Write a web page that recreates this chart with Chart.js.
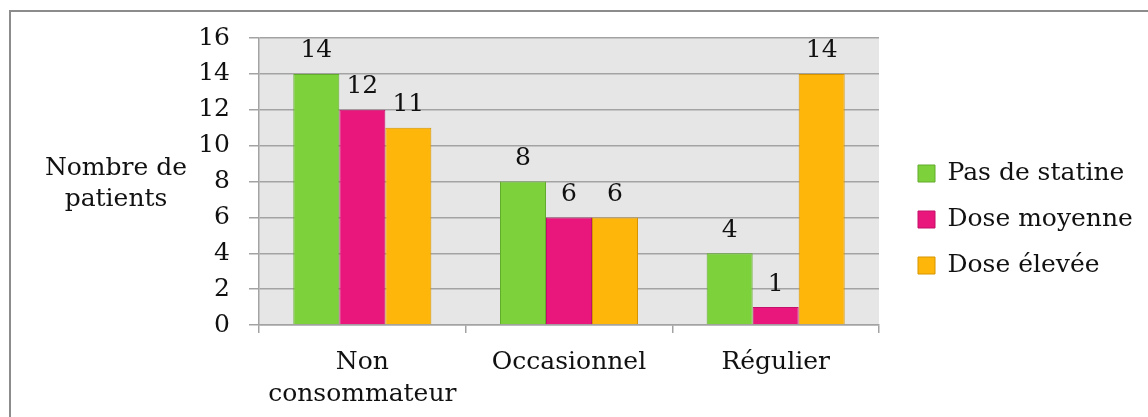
<!DOCTYPE html>
<html>
<head>
<meta charset="utf-8">
<script src="https://cdn.jsdelivr.net/npm/chart.js@4"></script>
<style>
  html, body { margin: 0; padding: 0; background: #fff; overflow: hidden; }
  #wrap { position: relative; width: 1148px; height: 417px; }
  #frame { position: absolute; left: 9px; top: 10px; width: 1200px; height: 500px; border: 2px solid #8c8c8c; }
  canvas { position: absolute; left: 0; top: 0; }
</style>
</head>
<body>
<div id="wrap">
  <div id="frame"></div>
  <canvas id="chart" width="1148" height="417"></canvas>
</div>
<script>
// ========== DATA ==========
const categories = [['Non', 'consommateur'], 'Occasionnel', 'Régulier'];
const seriesNames = ['Pas de statine', 'Dose moyenne', 'Dose élevée'];
const pasDeStatine = [14, 8, 4];
const doseMoyenne = [12, 6, 1];
const doseElevee = [11, 6, 14];
const yTicks = [0, 2, 4, 6, 8, 10, 12, 14, 16];
const yTitle = ['Nombre de', 'patients'];

// ========== STYLE ==========
const FONT = { family: '"DejaVu Serif", serif', size: 25 };
const TEXT = '#111';
const GRID = '#a3a3a3';

// ========== PLUGINS ==========
const plotBg = {
  id: 'plotBg',
  beforeDraw(chart) {
    const { ctx, chartArea: a } = chart;
    ctx.save();
    ctx.fillStyle = '#e6e6e6';
    ctx.fillRect(a.left, a.top, a.right - a.left, a.bottom - a.top);
    ctx.restore();
  }
};

const valueLabels = {
  id: 'valueLabels',
  afterDatasetsDraw(chart) {
    const ctx = chart.ctx;
    ctx.save();
    ctx.font = FONT.size + 'px ' + FONT.family;
    ctx.fillStyle = TEXT;
    ctx.textAlign = 'center';
    ctx.textBaseline = 'middle';
    chart.data.datasets.forEach((ds, i) => {
      chart.getDatasetMeta(i).data.forEach((bar, j) => {
        ctx.fillText(String(ds.data[j]), bar.x, bar.y - 23);
      });
    });
    ctx.restore();
  }
};

const axisTitle = {
  id: 'axisTitle',
  afterDraw(chart) {
    const { ctx, chartArea: a } = chart;
    const cy = (a.top + a.bottom) / 2;
    ctx.save();
    ctx.font = FONT.size + 'px ' + FONT.family;
    ctx.fillStyle = TEXT;
    ctx.textAlign = 'center';
    ctx.textBaseline = 'middle';
    ctx.fillText(yTitle[0], 116, cy - 13);
    ctx.fillText(yTitle[1], 116, cy + 18);
    ctx.restore();
  }
};

// legend: fixed width on the right, nudged to match the reference
const legendFix = {
  id: 'legendFix',
  beforeLayout(chart) {
    const lg = chart.legend;
    if (lg && !lg._fixed) {
      const fit = lg.fit;
      lg.fit = function () { fit.call(this); this.width = 269; };
      lg._fixed = true;
    }
  },
  afterLayout(chart) {
    const lg = chart.legend;
    lg.left += 18; lg.right += 18;
    lg.top -= 8; lg.bottom -= 8;
  }
};

// ========== CHART ==========
new Chart(document.getElementById('chart'), {
  type: 'bar',
  data: {
    labels: categories,
    datasets: [
      { label: seriesNames[0], data: pasDeStatine, backgroundColor: '#7dd13a', borderColor: '#62ab2c' },
      { label: seriesNames[1], data: doseMoyenne, backgroundColor: '#e9177b', borderColor: '#c4106a' },
      { label: seriesNames[2], data: doseElevee, backgroundColor: '#ffb60a', borderColor: '#d69500' }
    ].map(d => Object.assign(d, { borderWidth: 1, categoryPercentage: 0.668, barPercentage: 1 }))
  },
  options: {
    responsive: false,
    animation: false,
    layout: { padding: { top: 38, left: 0, right: 0, bottom: 0 } },
    plugins: {
      tooltip: { enabled: false },
      legend: {
        position: 'right',
        labels: {
          font: FONT,
          color: TEXT,
          boxWidth: 17,
          boxHeight: 17,
          padding: 21
        }
      }
    },
    scales: {
      x: {
        grid: { drawOnChartArea: false, drawTicks: true, tickLength: 8, color: GRID, lineWidth: 1.5 },
        border: { color: GRID, width: 1.5 },
        ticks: { font: Object.assign({ lineHeight: 1.3 }, FONT), color: TEXT, padding: 13, maxRotation: 0 },
        afterFit(scale) { scale.height = 92; }
      },
      y: {
        min: 0,
        max: 16,
        afterBuildTicks(scale) { scale.ticks = yTicks.map(v => ({ value: v })); },
        grid: { color: GRID, lineWidth: 1.5, tickLength: 10 },
        border: { color: GRID, width: 1.5 },
        ticks: { font: FONT, color: TEXT, padding: 19 },
        afterFit(scale) { scale.width = 259; }
      }
    }
  },
  plugins: [plotBg, valueLabels, axisTitle, legendFix]
});
</script>
</body>
</html>
